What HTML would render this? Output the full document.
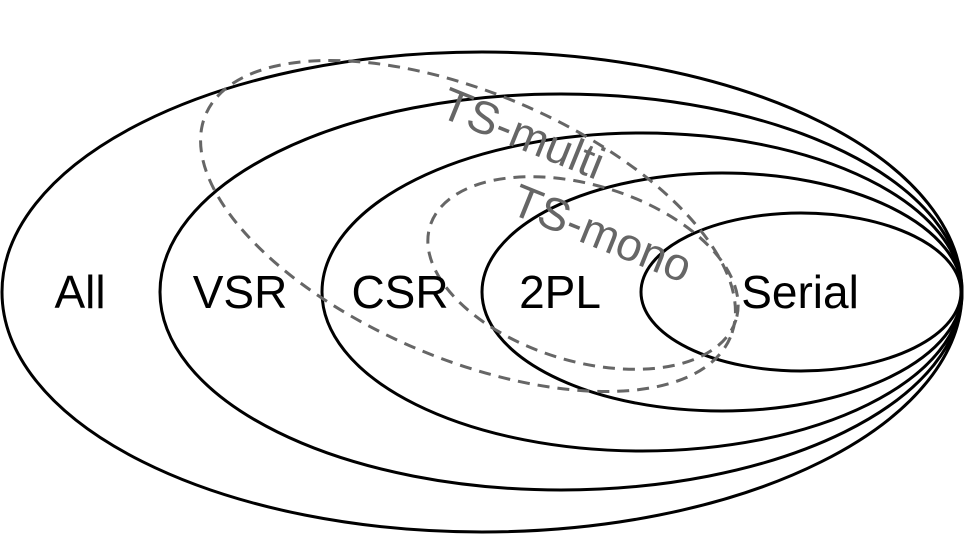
<!DOCTYPE html>
<html><head><style>body{margin:0;background:#fff}</style></head><body>
<svg width="964" height="536" xmlns="http://www.w3.org/2000/svg" font-family="Liberation Sans, Arial, sans-serif">
<g fill="none" stroke="#000" stroke-width="3">
<ellipse cx="482" cy="292" rx="480" ry="240"/>
<ellipse cx="561" cy="292" rx="401" ry="198"/>
<ellipse cx="642" cy="292" rx="320" ry="159"/>
<ellipse cx="722" cy="292" rx="240" ry="119"/>
<ellipse cx="801" cy="292" rx="160" ry="79"/>
</g>
<g fill="none" stroke="#666" stroke-width="3" stroke-dasharray="12,8">
<ellipse cx="468" cy="226" rx="285" ry="133" transform="rotate(23 468 226)"/>
<ellipse cx="583" cy="273" rx="160" ry="88" transform="rotate(17 583 273)"/>
</g>
<g font-size="46" fill="#000" text-anchor="middle">
<text x="80" y="308">All</text>
<text x="240" y="308">VSR</text>
<text x="400" y="308">CSR</text>
<text x="560" y="308">2PL</text>
<text x="800" y="308">Serial</text>
</g>
<g font-size="46" fill="#666" text-anchor="middle">
<text x="0" y="0" transform="translate(517 148) rotate(22)">TS-multi</text>
<text x="0" y="0" transform="translate(596 248) rotate(22)">TS-mono</text>
</g>
</svg>
</body></html>
